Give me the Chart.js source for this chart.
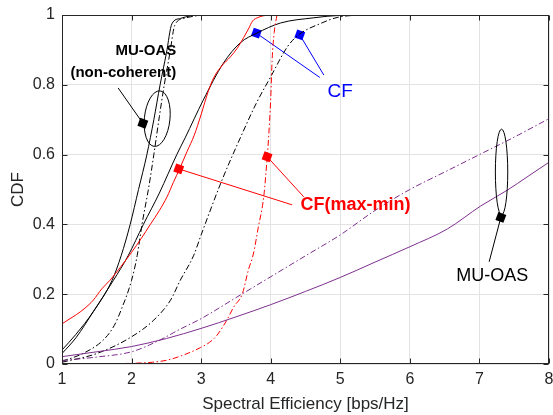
<!DOCTYPE html>
<html><head><meta charset="utf-8">
<script src="https://cdn.jsdelivr.net/npm/chart.js@4.4.0/dist/chart.umd.min.js"></script>
<style>html,body{margin:0;padding:0;background:#fff;}canvas{display:block;}</style>
</head><body>
<canvas id="c" width="553" height="415"></canvas>
<script>
// ---------- tick labels ----------
const xTicks = [1, 2, 3, 4, 5, 6, 7, 8];
const yTicks = [0, 0.2, 0.4, 0.6, 0.8, 1];

// ---------- series ----------
// MU-OAS (non-coherent), solid black
const ncSolidX = [1, 1.2, 1.45, 1.72, 1.85, 1.98, 2.1, 2.22, 2.32, 2.41, 2.5, 2.58, 2.7, 2.85, 3.0];
const ncSolidY = [0.04, 0.085, 0.15, 0.24, 0.31, 0.4, 0.5, 0.6, 0.7, 0.8, 0.89, 0.975, 0.99, 0.998, 1.0];
// MU-OAS (non-coherent), dash-dot black
const ncDashX = [1, 1.3, 1.6, 1.75, 1.86, 2.0, 2.08, 2.15, 2.25, 2.32, 2.4, 2.47, 2.55, 2.62, 2.75, 3.0];
const ncDashY = [0.008, 0.03, 0.07, 0.11, 0.16, 0.24, 0.31, 0.4, 0.51, 0.6, 0.71, 0.8, 0.89, 0.97, 0.99, 1.0];
// CF, solid black
const cfSolidX = [1, 1.2, 1.45, 1.74, 1.95, 2.17, 2.4, 2.65, 2.77, 3.03, 3.32, 3.56, 3.8, 4.14, 4.62, 5.0, 5.4];
const cfSolidY = [0.03, 0.075, 0.15, 0.24, 0.31, 0.4, 0.49, 0.6, 0.648, 0.756, 0.862, 0.92, 0.948, 0.977, 0.992, 0.999, 1.0];
// CF, dash-dot black
const cfDashX = [1, 1.5, 2.0, 2.32, 2.56, 2.7, 2.89, 3.0, 3.3, 3.59, 3.8, 4.0, 4.24, 4.4, 4.72, 5.0, 5.4];
const cfDashY = [0.005, 0.03, 0.078, 0.126, 0.183, 0.24, 0.31, 0.37, 0.527, 0.66, 0.75, 0.823, 0.909, 0.943, 0.976, 0.995, 1.0];
// CF(max-min), solid red
const mmSolidX = [1, 1.1, 1.21, 1.33, 1.45, 1.57, 1.69, 1.85, 2.0, 2.14, 2.27, 2.4, 2.51, 2.6, 2.69, 2.8, 2.9, 3.0, 3.1, 3.18, 3.3, 3.42, 3.52, 3.61, 3.68, 3.74, 3.82, 3.9, 4.0];
const mmSolidY = [0.115, 0.128, 0.142, 0.16, 0.183, 0.215, 0.24, 0.28, 0.32, 0.36, 0.4, 0.44, 0.479, 0.52, 0.559, 0.61, 0.655, 0.715, 0.78, 0.82, 0.855, 0.88, 0.905, 0.935, 0.96, 0.983, 0.993, 0.998, 1.0];
// CF(max-min), dash-dot red
const mmDashX = [1.52, 2.0, 2.3, 2.51, 2.75, 2.99, 3.12, 3.23, 3.37, 3.47, 3.59, 3.68, 3.75, 3.82, 3.9, 3.95, 3.97, 4.0, 4.02, 4.05, 4.09];
const mmDashY = [0.0, 0.002, 0.005, 0.011, 0.026, 0.047, 0.062, 0.083, 0.126, 0.164, 0.2, 0.27, 0.315, 0.39, 0.48, 0.594, 0.65, 0.76, 0.87, 0.95, 1.0];
// MU-OAS, solid purple
const muSolidX = [1, 1.5, 2.0, 2.5, 3.0, 3.5, 4.0, 4.5, 5.0, 5.5, 6.0, 6.54, 7.02, 7.4, 7.7, 8.0];
const muSolidY = [0.021, 0.035, 0.05, 0.073, 0.102, 0.135, 0.17, 0.208, 0.248, 0.292, 0.336, 0.387, 0.453, 0.498, 0.538, 0.578];
// MU-OAS, dash-dot purple
const muDashX = [1, 1.5, 2.0, 2.36, 2.7, 3.0, 3.5, 4.0, 4.5, 5.0, 5.5, 6.0, 6.5, 7.0, 7.5, 8.0];
const muDashY = [0.01, 0.02, 0.035, 0.064, 0.1, 0.13, 0.19, 0.25, 0.31, 0.37, 0.44, 0.5, 0.55, 0.6, 0.65, 0.703];

// ---------- annotations (data units) ----------
const blackMarkX = [2.162, 7.308], blackMarkY = [0.690, 0.420];
const blueMarkX = [3.794, 4.418], blueMarkY = [0.948, 0.943];
const redMarkX = [2.678, 3.948], redMarkY = [0.559, 0.594];
const blackLeaders = [[[2.162, 0.690], [1.807, 0.791]], [[7.308, 0.420], [7.14, 0.293]]];
const blueLeaders = [[[3.794, 0.948], [4.706, 0.821]], [[4.418, 0.943], [4.763, 0.828]]];
const redLeaders = [[[2.678, 0.559], [4.308, 0.456]], [[3.948, 0.594], [4.475, 0.479]]];
const ellipses = [
  {cx: 2.368, cy: 0.703, rx: 0.184, ry: 0.080, rot: 6},
  {cx: 7.318, cy: 0.550, rx: 0.089, ry: 0.123, rot: 0}
];
const labels = [
  {text: 'MU-OAS', x: 2.642, y: 0.885, color: '#000', font: 'bold 15px "Liberation Sans", Arial, sans-serif', align: 'right'},
  {text: '(non-coherent)', x: 2.642, y: 0.822, color: '#000', font: 'bold 15px "Liberation Sans", Arial, sans-serif', align: 'right'},
  {text: 'CF', x: 4.817, y: 0.765, color: '#0000ff', font: '19px "Liberation Sans", Arial, sans-serif', align: 'left'},
  {text: 'CF(max-min)', x: 4.428, y: 0.441, color: '#ff0000', font: 'bold 18px "Liberation Sans", Arial, sans-serif', align: 'left'},
  {text: 'MU-OAS', x: 7.186, y: 0.238, color: '#000', font: '18px "Liberation Sans", Arial, sans-serif', align: 'center'}
];

const pts = (xs, ys) => xs.map((x, i) => ({x, y: ys[i]}));
const DASHDOT = [6, 2.5, 1.5, 2.5];
const PURPLE = '#7E2F8E';

function curve(xs, ys, color, dash) {
  return {data: pts(xs, ys), borderColor: color, borderWidth: 1, pointRadius: 0,
    borderDash: dash || [], cubicInterpolationMode: 'monotone', fill: false};
}
function leader(seg, color) {
  return {data: seg.map(p => ({x: p[0], y: p[1]})), borderColor: color, borderWidth: 1, pointRadius: 0, fill: false};
}
function markers(xs, ys, color) {
  return {data: pts(xs, ys), showLine: false, pointStyle: 'rect', pointRadius: 6, pointHoverRadius: 6,
    pointRotation: 20, backgroundColor: color, borderColor: color, borderWidth: 0};
}

const datasets = [
  curve(muSolidX, muSolidY, PURPLE),
  curve(muDashX, muDashY, PURPLE, DASHDOT),
  curve(mmDashX, mmDashY, '#ff0000', DASHDOT),
  curve(mmSolidX, mmSolidY, '#ff0000'),
  curve(cfDashX, cfDashY, '#000', DASHDOT),
  curve(cfSolidX, cfSolidY, '#000'),
  curve(ncDashX, ncDashY, '#000', DASHDOT),
  curve(ncSolidX, ncSolidY, '#000'),
  ...blackLeaders.map(s => leader(s, '#000')),
  ...blueLeaders.map(s => leader(s, '#0000ff')),
  ...redLeaders.map(s => leader(s, '#ff0000')),
  markers(blackMarkX, blackMarkY, '#000'),
  markers(blueMarkX, blueMarkY, '#0000ff'),
  markers(redMarkX, redMarkY, '#ff0000')
];

const AXIS = '#262626';
const overlay = {
  id: 'overlay',
  afterDatasetsDraw(chart) {
    const {ctx, chartArea: a, scales: {x, y}} = chart;
    ctx.save();
    // ellipses
    ctx.strokeStyle = '#000'; ctx.lineWidth = 1;
    ellipses.forEach(e => {
      const px = x.getPixelForValue(e.cx), py = y.getPixelForValue(e.cy);
      const rx = Math.abs(x.getPixelForValue(e.cx + e.rx) - px);
      const ry = Math.abs(y.getPixelForValue(e.cy + e.ry) - py);
      ctx.beginPath();
      ctx.ellipse(px, py, rx, ry, e.rot * Math.PI / 180, 0, Math.PI * 2);
      ctx.stroke();
    });
    // labels
    ctx.textBaseline = 'alphabetic';
    labels.forEach(l => {
      ctx.font = l.font; ctx.fillStyle = l.color; ctx.textAlign = l.align;
      ctx.fillText(l.text, x.getPixelForValue(l.x), y.getPixelForValue(l.y));
    });
    // box
    ctx.strokeStyle = AXIS; ctx.lineWidth = 1;
    const L = Math.round(a.left) + 0.5, R = Math.round(a.right) - 0.5;
    const T = Math.round(a.top) + 0.5, B = Math.round(a.bottom) - 0.5;
    ctx.strokeRect(L, T, R - L, B - T);
    // inward ticks
    const tl = 5;
    ctx.beginPath();
    xTicks.forEach(v => {
      const p = Math.round(x.getPixelForValue(v)) + 0.5;
      ctx.moveTo(p, B); ctx.lineTo(p, B - tl);
      ctx.moveTo(p, T); ctx.lineTo(p, T + tl);
    });
    yTicks.forEach(v => {
      const p = Math.round(y.getPixelForValue(v)) + 0.5;
      ctx.moveTo(L, p); ctx.lineTo(L + tl, p);
      ctx.moveTo(R, p); ctx.lineTo(R - tl, p);
    });
    ctx.stroke();
    ctx.restore();
  }
};

const FONT = '"Liberation Sans", Arial, sans-serif';
new Chart(document.getElementById('c'), {
  type: 'line',
  data: {datasets},
  plugins: [overlay],
  options: {
    responsive: false,
    animation: false,
    events: [],
    layout: {autoPadding: false, padding: {top: 15, right: 4, left: 0, bottom: 0}},
    plugins: {legend: {display: false}, tooltip: {enabled: false}},
    scales: {
      x: {
        type: 'linear', min: 1, max: 8,
        afterBuildTicks: s => { s.ticks = xTicks.map(v => ({value: v})); },
        afterFit: s => { s.height = 51; s.paddingLeft = 0; s.paddingRight = 0; },
        ticks: {autoSkip: false, maxRotation: 0, font: {family: FONT, size: 16}, color: AXIS, padding: 6, callback: v => String(v)},
        grid: {color: '#e3e3e3', drawTicks: false},
        border: {display: false},
        title: {display: true, text: 'Spectral Efficiency [bps/Hz]', font: {family: FONT, size: 17}, color: AXIS, padding: {top: 0, bottom: 0}}
      },
      y: {
        type: 'linear', min: 0, max: 1,
        afterBuildTicks: s => { s.ticks = yTicks.map(v => ({value: v})); },
        afterFit: s => { s.width = 62; s.paddingTop = 0; s.paddingBottom = 0; },
        ticks: {autoSkip: false, font: {family: FONT, size: 16}, color: AXIS, padding: 7, callback: v => String(v)},
        grid: {color: '#e3e3e3', drawTicks: false},
        border: {display: false},
        title: {display: true, text: 'CDF', font: {family: FONT, size: 17}, color: AXIS, padding: {top: 8, bottom: 0}}
      }
    }
  }
});
</script>
</body></html>
